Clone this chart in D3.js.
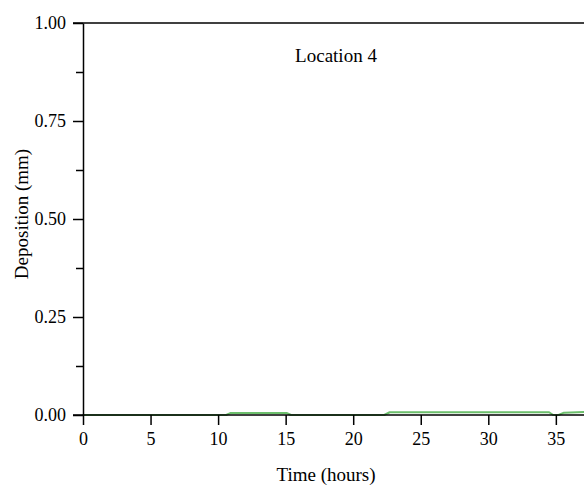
<!DOCTYPE html>
<html>
<head>
<meta charset="utf-8">
<script src="https://cdn.jsdelivr.net/npm/d3@7"></script>
<style>
body { margin: 0; background: #fff; }
</style>
</head>
<body>
<div id="chart"></div>
<script>
// deposition series (Location 4)
var timeHours = [0, 10.6, 10.9, 15.1, 15.4, 22.3, 22.7, 34.5, 34.8, 35.2, 35.6, 37.5, 40];
var depositionMm = [0, 0, 0.005, 0.005, 0, 0, 0.007, 0.007, 0, 0, 0.006, 0.008, 0.008];
var xTicks = [0, 5, 10, 15, 20, 25, 30, 35];
var yTicks = [0, 0.125, 0.25, 0.375, 0.5, 0.625, 0.75, 0.875, 1];
var yLabelTicks = [0, 0.25, 0.5, 0.75, 1];

var W = 584, H = 487;
var serif = "'Liberation Serif', 'Times New Roman', serif";
var svg = d3.select("#chart").append("svg").attr("width", W).attr("height", H)
	.attr("font-family", serif);

var x = d3.scaleLinear().domain([0, 40]).range([83, 623.4]);
var y = d3.scaleLinear().domain([0, 1]).range([415, 23]);

// green series line, drawn under the axis
var line = d3.line().x(function(d, i) { return x(timeHours[i]); })
	.y(function(d) { return y(d); });
svg.append("path").datum(depositionMm).attr("d", line)
	.attr("fill", "none").attr("stroke", "#6cbf6c").attr("stroke-width", 2)
	.attr("stroke-linejoin", "round").attr("stroke-linecap", "round");

// x axis
var xAxis = d3.axisBottom(x).tickValues(xTicks).tickSize(10).tickSizeOuter(0)
	.tickFormat(d3.format("d"));
var gx = svg.append("g").attr("transform", "translate(0," + y(0) + ")").call(xAxis)
	.attr("font-family", serif);
gx.select(".domain").attr("stroke", "#000").attr("stroke-width", 1.5)
	.attr("d", "M73,0H" + W);
gx.selectAll(".tick line").attr("stroke", "#000").attr("stroke-width", 1.5);
gx.selectAll(".tick text").attr("font-size", 18).attr("fill", "#000")
	.attr("y", 30).attr("dy", 0);

// y axis
var yAxis = d3.axisLeft(y).tickValues(yTicks).tickSize(7).tickSizeOuter(0)
	.tickFormat(function(d) { return yLabelTicks.indexOf(d) >= 0 ? d3.format(".2f")(d) : ""; });
var gy = svg.append("g").attr("transform", "translate(83,0)").call(yAxis)
	.attr("font-family", serif);
gy.select(".domain").attr("stroke", "#000").attr("stroke-width", 1.5);
gy.selectAll(".tick line").attr("stroke", "#000").attr("stroke-width", 1.5);
gy.selectAll(".tick").filter(function(d) { return yLabelTicks.indexOf(d) >= 0; })
	.select("line").attr("x2", -10);
gy.selectAll(".tick text").attr("font-size", 18).attr("fill", "#000").attr("x", -17);

// top frame line
svg.append("line").attr("x1", 73).attr("x2", W).attr("y1", y(1)).attr("y2", y(1))
	.attr("stroke", "#000").attr("stroke-width", 1.5);

// labels
svg.append("text").attr("x", 336).attr("y", 62).attr("text-anchor", "middle")
	.attr("font-size", 19).text("Location 4");
svg.append("text").attr("x", 326).attr("y", 481).attr("text-anchor", "middle")
	.attr("font-size", 19).text("Time (hours)");
svg.append("text").attr("transform", "translate(28,214) rotate(-90)")
	.attr("text-anchor", "middle").attr("font-size", 19).text("Deposition (mm)");
</script>
</body>
</html>
